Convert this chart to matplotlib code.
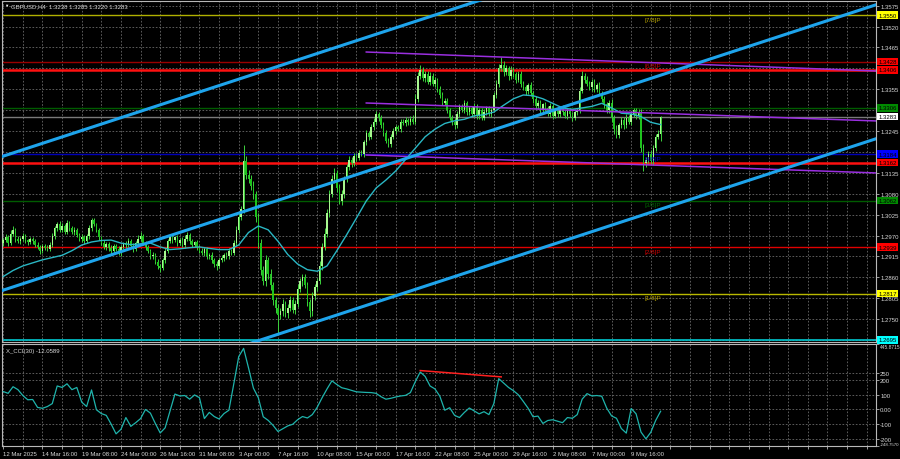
"""GBPUSD H4 chart with Murrey levels, regression channel and CCI(30) sub-window."""

import matplotlib as mpl
mpl.use("Agg")
import matplotlib.pyplot as plt
import matplotlib.transforms as mtransforms
import numpy as np

# ---- data (prices in pips, 1 pip = 0.0001) ----
FIRST_OPEN = 12950
CLOSES = [
    12958, 12966, 12950, 12975, 12985, 12962, 12955, 12960, 12968, 12958,
    12952, 12960, 12955, 12945, 12940, 12930, 12942, 12938, 12935, 12945,
    12968, 12990, 13000, 12985, 12995, 12980, 13002, 12990, 12978, 12985,
    12972, 12960, 12965, 12955, 12968, 12990, 13010, 13000, 12985, 12965,
    12950, 12940, 12948, 12938, 12928, 12942, 12935, 12925, 12940, 12950,
    12945, 12955, 12942, 12935, 12950, 12962, 12970, 12950, 12940, 12930,
    12915, 12920, 12900, 12890, 12885, 12905, 12930, 12955, 12968, 12958,
    12965, 12950, 12958, 12945, 12962, 12972, 12955, 12945, 12952, 12940,
    12930, 12925, 12935, 12915, 12920, 12905, 12895, 12890, 12905, 12910,
    12920, 12915, 12930, 12925, 12950, 12985, 13020, 13040, 13165, 13130,
    13120, 13100, 13080, 13020, 12950, 12880, 12850, 12905, 12870, 12840,
    12800, 12780, 12760, 12770, 12790, 12765, 12780, 12800, 12775, 12790,
    12830, 12850, 12860, 12840, 12795, 12770, 12810, 12835, 12850, 12890,
    12940, 12975, 13030, 13080, 13120, 13135, 13095, 13060, 13080, 13120,
    13150, 13170, 13160, 13180, 13175, 13188, 13185, 13215, 13240, 13230,
    13255, 13270, 13290, 13280, 13260, 13240, 13220, 13210, 13230, 13245,
    13255, 13250, 13270, 13265, 13275, 13268, 13278, 13270, 13330, 13390,
    13405, 13385, 13395, 13375, 13390, 13370, 13380, 13355, 13340, 13320,
    13325, 13300, 13280, 13270, 13260, 13290, 13310, 13300, 13320, 13295,
    13305, 13290, 13310, 13285, 13300, 13280, 13295, 13305, 13290, 13300,
    13340, 13370, 13410, 13420, 13400, 13410, 13390, 13405, 13395, 13380,
    13395, 13370, 13360, 13350, 13365, 13345, 13330, 13310, 13320, 13300,
    13315, 13305, 13290, 13310, 13285, 13300, 13290, 13305, 13295, 13285,
    13300, 13290, 13280, 13295, 13300, 13350, 13390, 13380, 13370, 13360,
    13375, 13355, 13365, 13345, 13330, 13315, 13300, 13320, 13280, 13250,
    13235, 13260, 13275, 13260, 13280, 13270, 13290, 13300, 13285, 13295,
    13200, 13160, 13170, 13185, 13165, 13200, 13230, 13238, 13283,
]
WICK_UP = [
    6, 8, 5, 9, 10, 4, 7, 5, 8, 6, 4, 7, 5, 6, 8, 4, 6, 5, 7, 9,
    8, 6, 5, 9, 7, 6, 8, 5, 4, 7, 6, 5, 8, 6, 7, 9, 6, 5, 4, 6,
    5, 7, 6, 4, 8, 5, 6, 7, 5, 4, 6, 8, 5, 7, 6, 9, 8, 5, 6, 4,
    5, 6, 4, 7, 5, 6, 8, 7, 5, 6, 4, 7, 5, 8, 9, 6, 5, 7, 4, 6,
    5, 7, 6, 5, 4, 6, 5, 7, 6, 8, 5, 6, 7, 5, 8, 10, 12, 9, 42, 15,
    12, 10, 14, 8, 9, 12, 10, 15, 9, 11, 8, 7, 9, 10, 12, 8, 9, 11, 7, 10,
    12, 9, 8, 10, 7, 9, 11, 8, 9, 12, 10, 14, 9, 11, 10, 12, 8, 10, 9, 8,
    7, 9, 6, 8, 7, 6, 8, 7, 9, 6, 8, 9, 7, 5, 6, 8, 7, 6, 8, 7,
    6, 5, 8, 7, 6, 5, 7, 9, 12, 10, 15, 8, 9, 7, 10, 8, 7, 6, 8, 7,
    6, 8, 7, 6, 9, 8, 7, 6, 8, 5, 7, 6, 8, 7, 5, 6, 7, 6, 5, 7,
    8, 10, 12, 20, 9, 8, 7, 10, 8, 6, 9, 7, 8, 6, 7, 9, 6, 8, 7, 6,
    5, 7, 6, 8, 5, 7, 6, 5, 8, 6, 7, 5, 6, 8, 7, 10, 12, 8, 9, 7,
    8, 6, 7, 9, 6, 8, 7, 6, 9, 8, 10, 7, 8, 6, 9, 7, 8, 6, 7, 8,
    9, 12, 8, 7, 10, 9, 8, 9, 2,
]
WICK_DN = [
    7, 5, 8, 6, 5, 9, 6, 7, 5, 8, 6, 5, 7, 6, 5, 8, 6, 7, 5, 6,
    5, 7, 8, 6, 5, 7, 6, 8, 5, 6, 7, 5, 6, 8, 5, 6, 7, 6, 5, 8,
    6, 5, 7, 8, 6, 5, 7, 6, 8, 5, 7, 6, 5, 8, 6, 5, 7, 6, 8, 5,
    6, 7, 5, 8, 10, 6, 7, 5, 6, 8, 5, 7, 6, 5, 8, 6, 7, 5, 6, 7,
    6, 5, 8, 7, 6, 8, 7, 10, 6, 5, 7, 6, 8, 5, 6, 7, 9, 8, 10, 12,
    11, 9, 13, 15, 12, 14, 10, 12, 15, 13, 12, 14, 48, 10, 11, 9, 12, 10, 8, 11,
    9, 10, 12, 8, 10, 14, 11, 9, 10, 8, 11, 9, 10, 12, 9, 11, 10, 8, 9, 10,
    8, 7, 9, 6, 8, 7, 6, 8, 7, 9, 6, 8, 7, 9, 8, 7, 6, 8, 7, 6,
    7, 6, 8, 5, 7, 6, 8, 7, 6, 9, 7, 8, 10, 7, 8, 6, 9, 7, 8, 6,
    7, 8, 6, 9, 10, 7, 8, 6, 7, 9, 8, 6, 7, 9, 8, 6, 7, 8, 6, 7,
    6, 7, 8, 7, 9, 8, 10, 7, 8, 9, 7, 8, 6, 9, 7, 8, 10, 7, 8, 9,
    7, 8, 6, 7, 9, 6, 8, 7, 8, 6, 9, 7, 8, 6, 7, 8, 6, 9, 7, 8,
    9, 7, 8, 6, 8, 9, 7, 8, 10, 12, 9, 8, 7, 9, 8, 6, 8, 7, 9, 8,
    10, 21, 9, 10, 8, 9, 8, 7, 18,
]

# moving average, one value every 4 bars
MA_STEP = 4
MA_VALUES = [
    12862, 12878, 12890, 12898, 12906, 12912, 12918, 12930, 12945, 12953,
    12957, 12958, 12950, 12946, 12948, 12950, 12940, 12933, 12935, 12938,
    12940, 12936, 12933, 12933, 12945, 12978, 12995, 12985, 12955, 12920,
    12895, 12880, 12876, 12890, 12930, 12972, 13016, 13061, 13095, 13116,
    13140, 13170, 13200, 13230, 13250, 13265, 13272, 13276, 13285, 13288,
    13295, 13313, 13330, 13340, 13338, 13330, 13318, 13306, 13302, 13306,
    13310, 13318, 13306, 13292, 13290, 13283, 13268, 13262,
]

# X_CCI(30), one value every 2 bars
CCI_STEP = 2
CCI_VALUES = [
    122, 110, 155, 135, 95, 66, 68, 14, 8, 20,
    40, 160, 150, 175, 135, 150, 50, 20, 133, -2,
    -28, -40, -100, -166, -135, -55, -115, -90, -62, 0,
    -25, -95, -160, -125, -10, 105, 92, 95, 70, 99,
    80, -62, -20, -48, -65, -28, -5, 175, 360, 416,
    283, 145, 80, -50, -74, -108, -150, -131, -112, -101,
    -70, -48, -58, -35, 15, 80, 140, 195, 170, 148,
    140, 130, 120, 118, 116, 115, 110, 87, 70, 76,
    85, 92, 96, 115, 190, 255, 225, 160, 140, 90,
    -5, 12, -40, -55, -20, 10, -10, -30, -15, -35,
    40, 210, 180, 150, 128, 100, 55, 8, -50, -45,
    -95, -75, -70, -80, -90, -55, -60, -35, 70, 108,
    92, 95, 90, 10, -44, -60, -130, -161, 7, -30,
    -154, -200, -155, -74, -12.0589,
]
CCI_DIVERGENCE = [(170, 265), (203, 222)]

TIME_LABELS = [
    "12 Mar 2025", "14 Mar 16:00", "19 Mar 08:00", "24 Mar 00:00", "26 Mar 16:00",
    "31 Mar 08:00", "3 Apr 00:00", "7 Apr 16:00", "10 Apr 08:00", "15 Apr 00:00",
    "17 Apr 16:00", "22 Apr 08:00", "25 Apr 00:00", "29 Apr 16:00", "2 May 08:00",
    "7 May 00:00", "9 May 16:00",
]
BARS_PER_LABEL = 16

# horizontal levels and their axis tags
LEVEL_PRICES = [1.3550, 1.3428, 1.3406, 1.3306, 1.3283, 1.3184, 1.3162, 1.3062, 1.2939, 1.2817, 1.2695]
MURREY_NAMES = ["[7/8]P", "[6/8]P", "[4/8]P", "[3/8]P", "[2/8]P", "[1/8]P"]
MURREY_PRICES = [1.3550, 1.3428, 1.3184, 1.3062, 1.2939, 1.2817]

# regression channel (bar, price) and half-width
CHANNEL_MID = [(-1, 1.28241), (356, 1.35779)]
CHANNEL_HALF = 0.03527
# three purple lines, (bar, price) start and end
PURPLE_LINES = [
    [(148, 1.34531), (356, 1.34031)],
    [(148, 1.33189), (356, 1.32716)],
    [(148, 1.31820), (356, 1.31347)],
]

PRICE_TICKS = [1.2695 + 0.0055 * k for k in range(17)]
HIDDEN_TICKS = {"1.3410", "1.3300", "1.3190", "1.2695"}

TITLE = "GBPUSD,H4  1.3238 1.3285 1.3220 1.3283"
CCI_TITLE = "X_CCI(30) -12.0589"


def main() -> None:
    plt.rcParams["font.family"] = ["Liberation Sans", "DejaVu Sans"]
    fs = 4.3
    fg = "#d8d8d8"
    grid_kw = dict(color="#6a6a6a", linestyle=(0, (2, 2)), linewidth=0.6)

    fig = plt.figure(figsize=(9, 4.6), dpi=100, facecolor="black")
    ax = fig.add_axes([2 / 900, 1 - 342.5 / 460, 874 / 900, 340.5 / 460], facecolor="black")
    ax2 = fig.add_axes([2 / 900, 1 - 447 / 460, 874 / 900, 102 / 460], facecolor="black")

    xmax = -0.5 + 874 / 2.453
    for a in (ax, ax2):
        a.set_xlim(-0.5, xmax)
        for s in a.spines.values():
            s.set_color("#b8b8b8")
            s.set_linewidth(0.8)
        a.set_xticks(np.arange(0, xmax, BARS_PER_LABEL / 2))
        a.grid(True, axis="x", **grid_kw)
        a.set_axisbelow(True)
        a.yaxis.tick_right()
        a.tick_params(axis="y", colors=fg, labelsize=fs, length=2, pad=1.5, width=0.5)

    # ---- candles ----
    closes = np.array(CLOSES) / 1e4
    opens = np.concatenate([[FIRST_OPEN / 1e4], closes[:-1]])
    highs = np.maximum(opens, closes) + np.array(WICK_UP) / 1e4
    lows = np.minimum(opens, closes) - np.array(WICK_DN) / 1e4
    x = np.arange(len(closes))
    up = closes >= opens
    ax.vlines(x, lows, highs, color="#3cd23c", linewidth=0.7, zorder=3)
    body = np.maximum(np.abs(closes - opens), 0.00006)
    ax.bar(x[up], body[up], bottom=opens[up], width=0.62, color="#a8f890", linewidth=0, zorder=4)
    ax.bar(x[~up], body[~up], bottom=closes[~up], width=0.62, color="#1ec31e", linewidth=0, zorder=4)

    ma_x = np.arange(len(MA_VALUES)) * MA_STEP
    ax.plot(ma_x, np.array(MA_VALUES) / 1e4, color="#2ab7c4", linewidth=1.0, zorder=5)

    # ---- horizontal levels ----
    level_style = [
        ("#b0b000", 1.0), ("#9a0000", 1.0), ("#ff1010", 1.8), ("#005c00", 1.0), ("#7a7a7a", 1.0),
        ("#0000b8", 1.0), ("#ff1010", 1.8), ("#005c00", 1.0), ("#e00000", 1.0), ("#b8b800", 1.0),
        ("#00c8d0", 1.2),
    ]
    for price, (col, lw) in zip(LEVEL_PRICES, level_style):
        ax.axhline(price, color=col, linewidth=lw, zorder=2)

    murrey_col = ["#b8a400", "#c80000", "#0000d0", "#006400", "#d00000", "#b8a400"]
    for name, price, col in zip(MURREY_NAMES, MURREY_PRICES, murrey_col):
        ax.text(265, price - 0.0004, name, color=col, fontsize=fs + 0.3, ha="center", va="top", zorder=6)

    # ---- regression channel and purple lines ----
    (x0, y0), (x1, y1) = CHANNEL_MID
    for off in (-CHANNEL_HALF, 0.0, CHANNEL_HALF):
        ax.plot([x0, x1], [y0 + off, y1 + off], color="#1ea4ec", linewidth=2.2, zorder=7)
    for (px0, py0), (px1, py1) in PURPLE_LINES:
        ax.plot([px0, px1], [py0, py1], color="#9a2fe0", linewidth=1.1, zorder=6)

    # ---- price axis ----
    ax.set_ylim(1.2691, 1.35874)
    ax.set_yticks(PRICE_TICKS)
    ax.set_yticklabels(["" if f"{p:.4f}" in HIDDEN_TICKS else f"{p:.4f}" for p in PRICE_TICKS])
    ax.grid(True, axis="y", **grid_kw)
    ax.tick_params(axis="x", length=0, labelbottom=False)

    tag_tr = mtransforms.blended_transform_factory(ax.transAxes, ax.transData)
    tag_col = ["#ffff00", "#ff0000", "#ff0000", "#008a00", "#ffffff", "#0000ff",
               "#ff0000", "#008a00", "#ff0000", "#ffff00", "#00ffff"]
    for price, col in zip(LEVEL_PRICES, tag_col):
        ax.text(1.0 + 2.5 / 874, price, f"{price:.4f}", transform=tag_tr, ha="left", va="center",
                fontsize=fs, color="black", clip_on=False, zorder=10,
                bbox=dict(boxstyle="square,pad=0.22", fc=col, ec="none"))

    fig.text(4 / 900, 1 - 6 / 460, "\u25bc", color="white", fontsize=3.2, va="center", ha="left")
    fig.text(11 / 900, 1 - 6.5 / 460, TITLE, color=fg, fontsize=fs, va="center", ha="left")

    # ---- CCI window ----
    cci_x = np.arange(len(CCI_VALUES)) * CCI_STEP
    ax2.plot(cci_x, CCI_VALUES, color="#1fb4ac", linewidth=0.9, zorder=4)
    (dx0, dy0), (dx1, dy1) = CCI_DIVERGENCE
    ax2.plot([dx0, dx1], [dy0, dy1], color="#ff2020", linewidth=1.1, zorder=5)
    for lvl in (250, 200, 100, 0, -100, -200):
        ax2.axhline(lvl, zorder=1, **grid_kw)
    ax2.set_ylim(-248.757, 445.8715)
    cci_ticks = [445.8715, 250, 200, 100, 0, -100, -200, -248.757]
    ax2.set_yticks(cci_ticks)
    ax2.set_yticklabels(["445.8715", "250", "200", "100", "0.00", "-100", "-200", "-248.7570"])
    ax2.tick_params(axis="y", pad=1.0)
    ylabels = ax2.get_yticklabels()
    ylabels[0].set_fontsize(3.5)
    ylabels[0].set_verticalalignment("top")
    ylabels[-1].set_fontsize(3.2)
    ylabels[-1].set_verticalalignment("bottom")
    ax2.text(4 / 874, 0.94, CCI_TITLE, transform=ax2.transAxes, color=fg, fontsize=fs, va="center", ha="left")

    ax2.set_xticklabels([TIME_LABELS[i // 2] if i % 2 == 0 and i // 2 < len(TIME_LABELS) else ""
                         for i in range(len(ax2.get_xticks()))])
    ax2.tick_params(axis="x", colors=fg, labelsize=fs, length=2, pad=1.5, width=0.5)
    for lbl in ax2.get_xticklabels():
        lbl.set_horizontalalignment("left")

    fig.savefig("out.png", dpi=100, facecolor="black")


if __name__ == "__main__":
    main()
